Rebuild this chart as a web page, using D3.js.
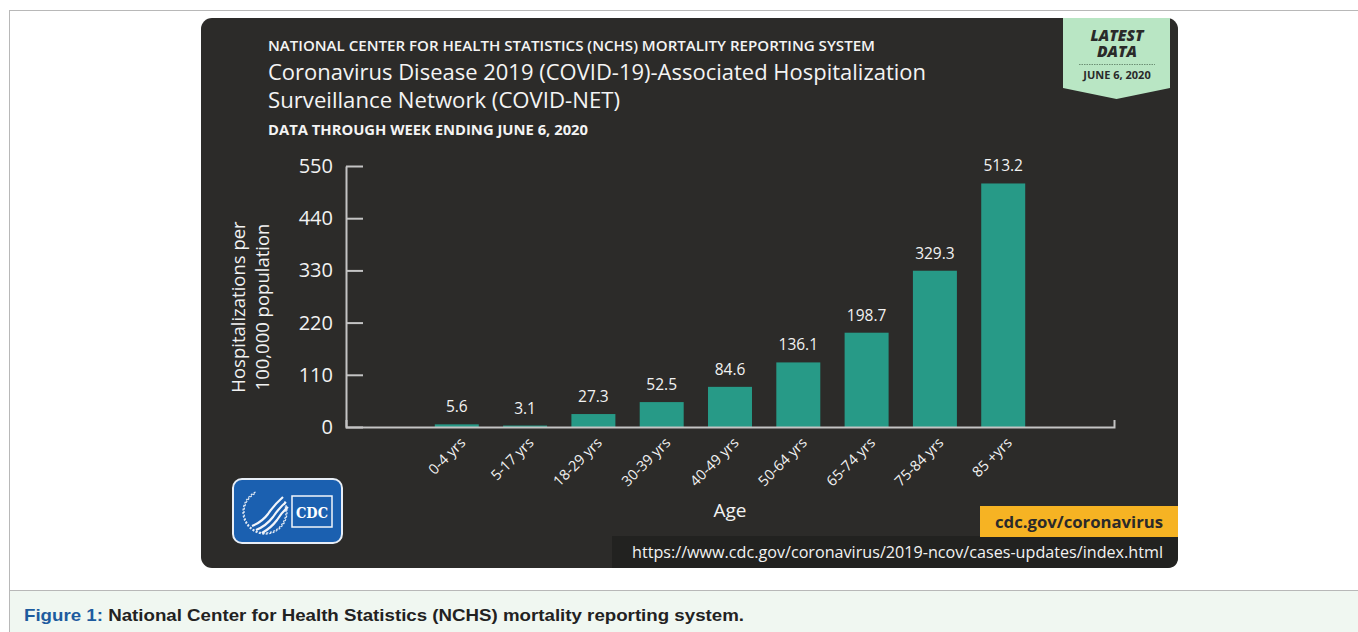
<!DOCTYPE html>
<html>
<head>
<meta charset="utf-8">
<script src="https://cdn.jsdelivr.net/npm/d3@7"></script>
<style>
  html, body { margin: 0; padding: 0; background: #fff; }
  svg { display: block; }
  text { font-family: "Open Sans", "Noto Sans", sans-serif; }
</style>
</head>
<body>
<svg id="chart" width="1358" height="632"></svg>
<script>
var ageGroups = ["0-4 yrs", "5-17 yrs", "18-29 yrs", "30-39 yrs", "40-49 yrs",
                 "50-64 yrs", "65-74 yrs", "75-84 yrs", "85 +yrs"];
var rates = [5.6, 3.1, 27.3, 52.5, 84.6, 136.1, 198.7, 329.3, 513.2];
var yTicks = [0, 110, 220, 330, 440, 550];

var svg = d3.select("#chart");

// page frame and caption
svg.append("rect").attr("x", 9.5).attr("y", 10.5).attr("width", 1360).attr("height", 640)
  .attr("fill", "#fff").attr("stroke", "#b8b8b8");
svg.append("rect").attr("x", 9.5).attr("y", 590.5).attr("width", 1360).attr("height", 50)
  .attr("fill", "#f0f7f1").attr("stroke", "#b8b8b8");

var cap = svg.append("text").attr("x", 24).attr("y", 621)
  .style("font-family", "'Liberation Sans', Arial, sans-serif")
  .style("font-size", "16.5px").style("font-weight", "bold")
  .attr("textLength", 720).attr("lengthAdjust", "spacingAndGlyphs");
cap.append("tspan").attr("fill", "#1d5b9e").text("Figure 1: ");
cap.append("tspan").attr("fill", "#222").text("National Center for Health Statistics (NCHS) mortality reporting system.");

// dark panel
svg.append("rect").attr("x", 201).attr("y", 18).attr("width", 977).attr("height", 550)
  .attr("rx", 11).attr("fill", "#2c2b29");

// url strip
svg.append("path").attr("d", "M612,536H1178V557Q1178,568 1167,568H612Z").attr("fill", "#222220");
svg.append("text").attr("x", 1163).attr("y", 558).attr("text-anchor", "end")
  .attr("fill", "#f2f2f2").style("font-size", "15.5px")
  .attr("textLength", 531).attr("lengthAdjust", "spacingAndGlyphs")
  .text("https://www.cdc.gov/coronavirus/2019-ncov/cases-updates/index.html");

// orange tag
svg.append("rect").attr("x", 980).attr("y", 506).attr("width", 198).attr("height", 31)
  .attr("fill", "#f6b323");
svg.append("text").attr("x", 1163).attr("y", 528).attr("text-anchor", "end")
  .attr("fill", "#2a2a2a").style("font-size", "16px").style("font-weight", 700)
  .attr("textLength", 168).attr("lengthAdjust", "spacingAndGlyphs")
  .text("cdc.gov/coronavirus");

// headings
function heading(txt, y, size, weight, len) {
  svg.append("text").attr("x", 268).attr("y", y).attr("fill", "#f4f4f4")
    .style("font-size", size + "px").style("font-weight", weight)
    .attr("textLength", len).attr("lengthAdjust", "spacingAndGlyphs")
    .text(txt);
}
heading("NATIONAL CENTER FOR HEALTH STATISTICS (NCHS) MORTALITY REPORTING SYSTEM", 51, 14.5, 600, 607);
heading("Coronavirus Disease 2019 (COVID-19)-Associated Hospitalization", 80, 22, 500, 658);
heading("Surveillance Network (COVID-NET)", 108, 22, 500, 352);
heading("DATA THROUGH WEEK ENDING JUNE 6, 2020", 135, 13.5, 700, 320);

// latest data badge
svg.append("path").attr("d", "M1063,18H1170V88L1116.5,99L1063,88Z").attr("fill", "#b9e6c4");
svg.append("text").attr("x", 1117).attr("y", 41).attr("text-anchor", "middle")
  .attr("fill", "#2a2a2a").style("font-size", "15.5px").style("font-weight", 800)
  .style("font-style", "italic").text("LATEST");
svg.append("text").attr("x", 1117).attr("y", 57).attr("text-anchor", "middle")
  .attr("fill", "#2a2a2a").style("font-size", "15.5px").style("font-weight", 800)
  .style("font-style", "italic").text("DATA");
svg.append("line").attr("x1", 1079).attr("x2", 1155).attr("y1", 64.5).attr("y2", 64.5)
  .attr("stroke", "#6c8f74").attr("stroke-dasharray", "1.5,1");
svg.append("text").attr("x", 1117).attr("y", 79).attr("text-anchor", "middle")
  .attr("fill", "#2a2a2a").style("font-size", "11px").style("font-weight", 700)
  .text("JUNE 6, 2020");

// scales
var x = d3.scaleBand().domain(ageGroups).range([346, 1114])
  .paddingInner(0.356).paddingOuter(1.3);
var y = d3.scaleLinear().domain([0, 550]).range([427, 166]);

// bars
svg.append("g").selectAll("rect").data(rates).enter().append("rect")
  .attr("x", function(d, i) { return x(ageGroups[i]); })
  .attr("y", function(d) { return y(d); })
  .attr("width", x.bandwidth())
  .attr("height", function(d) { return y(0) - y(d); })
  .attr("fill", "#279a87");

// value labels
svg.append("g").selectAll("text").data(rates).enter().append("text")
  .attr("x", function(d, i) { return x(ageGroups[i]) + x.bandwidth() / 2; })
  .attr("y", function(d) { return y(d) - 12; })
  .attr("text-anchor", "middle").attr("fill", "#f2f2f2")
  .style("font-size", "15.5px")
  .text(function(d) { return d.toFixed(1); });

// y axis
var yAxis = svg.append("g").attr("transform", "translate(346,0)")
  .call(d3.axisLeft(y).tickValues(yTicks).tickSizeInner(-17).tickSizeOuter(0).tickPadding(13));
yAxis.select(".domain").attr("stroke", "#c4c4c4").attr("stroke-width", 2);
yAxis.selectAll(".tick line").attr("stroke", "#c4c4c4").attr("stroke-width", 2);
yAxis.selectAll(".tick text").attr("fill", "#f2f2f2")
  .style("font-size", "20px").style("font-family", "'Open Sans', sans-serif");

// x axis
var xAxis = svg.append("g").attr("transform", "translate(0,427)")
  .call(d3.axisBottom(x).tickSizeInner(0).tickSizeOuter(-7));
xAxis.select(".domain").attr("stroke", "#c4c4c4").attr("stroke-width", 2);
xAxis.selectAll(".tick text")
  .attr("x", 0).attr("y", 0).attr("dy", "0.35em")
  .attr("transform", "translate(6,13) rotate(-45)")
  .attr("text-anchor", "end").attr("fill", "#f2f2f2")
  .style("font-size", "14.5px").style("font-family", "'Open Sans', sans-serif");

// axis titles
svg.append("text").attr("x", 730).attr("y", 517).attr("text-anchor", "middle")
  .attr("fill", "#f2f2f2").style("font-size", "19px").text("Age");
var yt = svg.append("text").attr("transform", "translate(245,307) rotate(-90)")
  .attr("text-anchor", "middle").attr("fill", "#f2f2f2").style("font-size", "18.5px");
yt.append("tspan").attr("x", 0).attr("y", 0).text("Hospitalizations per");
yt.append("tspan").attr("x", 0).attr("y", 24).text("100,000 population");

// CDC logo
var logo = svg.append("g");
logo.append("rect").attr("x", 233).attr("y", 479).attr("width", 109).attr("height", 64)
  .attr("rx", 9).attr("fill", "#1b60b0").attr("stroke", "#e8eef6").attr("stroke-width", 2);
logo.append("path").attr("d", d3.arc()({innerRadius: 21, outerRadius: 22,
    startAngle: 0.35 * Math.PI, endAngle: 1.85 * Math.PI}))
  .attr("transform", "translate(265,512)").attr("fill", "none")
  .attr("stroke", "#dfe8f4").attr("stroke-width", 1.3).attr("stroke-dasharray", "2,1.5");
logo.append("path")
  .attr("d", "M252,526Q262,522 268,514Q274,505 283,497M256,530Q266,526 273,517Q279,508 286,502M262,533Q271,528 277,520Q282,512 288,507")
  .attr("fill", "none").attr("stroke", "#f2f5fa").attr("stroke-width", 2.2);
logo.append("rect").attr("x", 292).attr("y", 496).attr("width", 40).attr("height", 31)
  .attr("fill", "#1b60b0").attr("stroke", "#f2f5fa").attr("stroke-width", 1.5);
logo.append("text").attr("x", 312).attr("y", 518).attr("text-anchor", "middle")
  .attr("fill", "#fff").style("font-family", "'DejaVu Serif', serif")
  .style("font-size", "15px").style("font-weight", "bold")
  .attr("textLength", 32).attr("lengthAdjust", "spacingAndGlyphs").text("CDC");
</script>
</body>
</html>
